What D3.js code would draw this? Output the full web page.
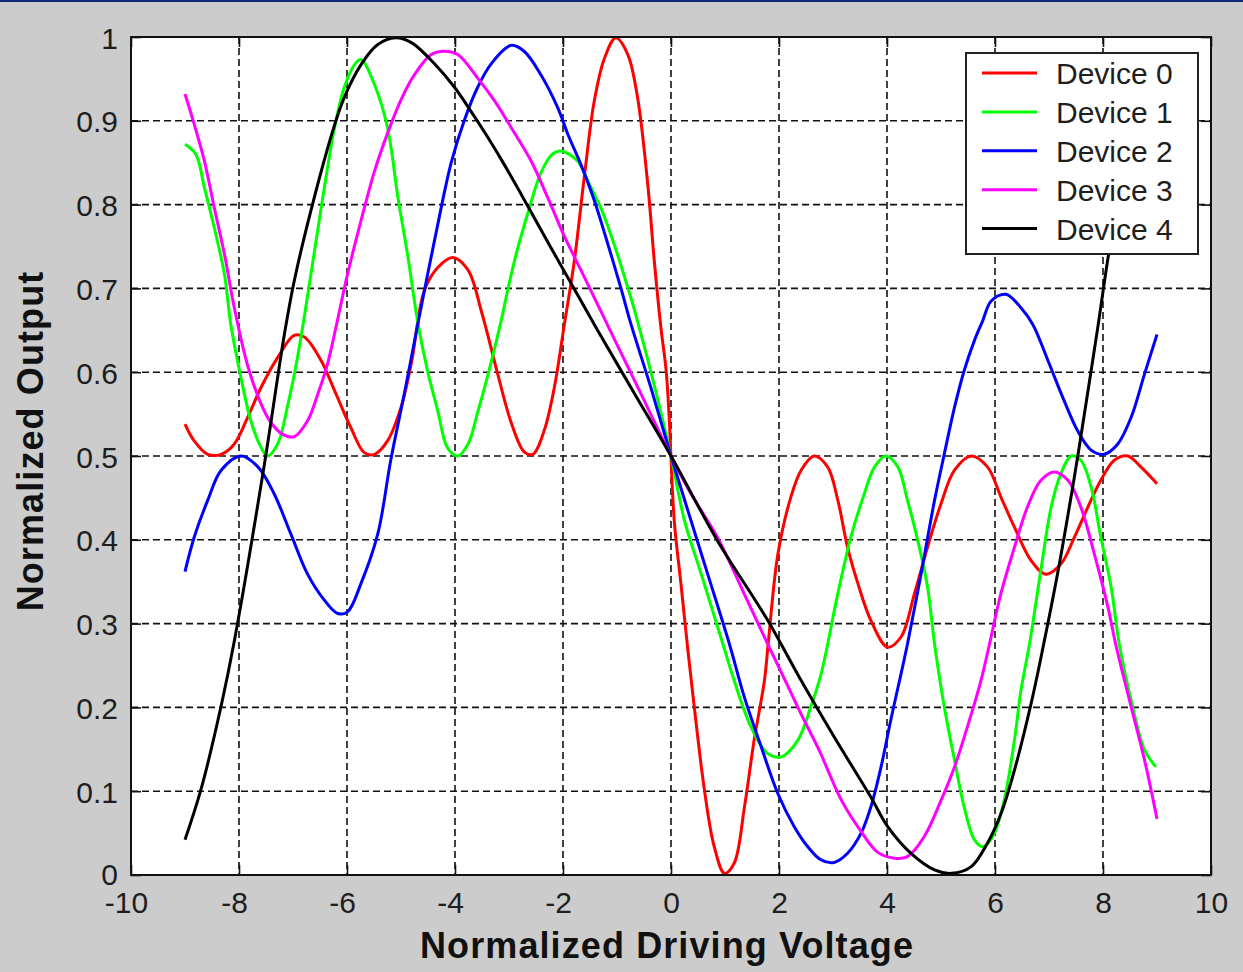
<!DOCTYPE html>
<html>
<head>
<meta charset="utf-8">
<script src="https://cdn.jsdelivr.net/npm/d3@7"></script>
<style>
  html, body { margin: 0; padding: 0; background: #cccccc; }
  svg { display: block; }
  text { font-family: "Liberation Sans", Arial, sans-serif; }
</style>
</head>
<body>
<svg id="chart" width="1243" height="972"></svg>
<script>
// ---------------- data ----------------
const seriesNames = ["Device 0", "Device 1", "Device 2", "Device 3", "Device 4"];
const seriesColors = ["#ff0000", "#00ff00", "#0000ff", "#ff00ff", "#000000"];

const xTickValues = [-10, -8, -6, -4, -2, 0, 2, 4, 6, 8, 10];
const xTickLabels = ["-10", "-8", "-6", "-4", "-2", "0", "2", "4", "6", "8", "10"];
const yTickValues = [0, 0.1, 0.2, 0.3, 0.4, 0.5, 0.6, 0.7, 0.8, 0.9, 1];
const yTickLabels = ["0", "0.1", "0.2", "0.3", "0.4", "0.5", "0.6", "0.7", "0.8", "0.9", "1"];

const xLabel = "Normalized Driving Voltage";
const yLabel = "Normalized Output";

const device0 = [
  [-9.0,0.538],[-8.83,0.518],[-8.58,0.502],[-8.33,0.502],[-8.09,0.514],[-7.84,0.546],
  [-7.59,0.582],[-7.28,0.618],[-6.98,0.644],[-6.79,0.642],[-6.48,0.614],[-6.23,0.578],
  [-5.93,0.534],[-5.68,0.504],[-5.49,0.502],[-5.25,0.518],[-5.0,0.558],[-4.81,0.61],
  [-4.57,0.697],[-4.32,0.725],[-4.04,0.737],[-3.76,0.722],[-3.50,0.670],[-3.21,0.598],
  [-2.96,0.540],[-2.72,0.505],[-2.56,0.502],[-2.35,0.530],[-2.16,0.582],
  [-1.98,0.655],[-1.79,0.733],[-1.60,0.836],[-1.42,0.924],[-1.23,0.975],[-1.02,0.999],
  [-0.80,0.979],[-0.62,0.928],[-0.43,0.824],[-0.31,0.733],[-0.19,0.655],[-0.09,0.602],
  [-0.03,0.542],[0,0.498],[0.06,0.423],[0.19,0.344],[0.30,0.276],[0.43,0.201],
  [0.62,0.101],[0.80,0.034],[0.99,0.002],[1.17,0.014],[1.36,0.081],[1.54,0.161],
  [1.73,0.232],[1.80,0.276],[1.98,0.383],[2.22,0.451],[2.41,0.483],[2.65,0.500],
  [2.90,0.487],[3.09,0.447],[3.27,0.391],[3.46,0.348],[3.70,0.304],[4.01,0.272],
  [4.26,0.284],[4.51,0.336],[4.75,0.391],[5.0,0.443],[5.25,0.483],[5.56,0.500],
  [5.86,0.487],[6.11,0.451],[6.36,0.415],[6.67,0.375],[6.94,0.359],[7.22,0.371],
  [7.47,0.403],[7.72,0.439],[7.96,0.471],[8.21,0.495],[8.46,0.500],[8.70,0.487],[9.0,0.467]
];

const device1 = [
  [-9.0,0.872],[-8.80,0.860],[-8.64,0.820],[-8.46,0.773],[-8.27,0.717],[-8.15,0.656],
  [-7.99,0.602],[-7.78,0.542],[-7.59,0.510],[-7.47,0.500],[-7.28,0.515],[-7.10,0.560],
  [-6.91,0.620],[-6.61,0.741],[-6.42,0.820],[-6.23,0.892],[-6.05,0.940],[-5.86,0.967],
  [-5.74,0.973],[-5.49,0.943],[-5.25,0.892],[-5.06,0.810],[-4.88,0.741],[-4.69,0.660],
  [-4.51,0.602],[-4.32,0.554],[-4.14,0.510],[-3.95,0.500],[-3.76,0.514],[-3.58,0.552],
  [-3.33,0.612],[-3.15,0.660],[-3.00,0.705],[-2.85,0.745],[-2.65,0.790],[-2.41,0.838],
  [-2.20,0.860],[-2.04,0.864],[-1.73,0.852],[-1.54,0.828],[-1.30,0.796],[-1.05,0.752],
  [-0.80,0.701],[-0.68,0.675],[-0.34,0.592],[0,0.500],[0.25,0.423],[0.56,0.359],
  [0.96,0.276],[1.17,0.232],[1.48,0.177],[1.79,0.145],[2.04,0.141],[2.35,0.161],
  [2.59,0.201],[2.78,0.240],[3.09,0.336],[3.33,0.403],[3.58,0.455],[3.77,0.487],
  [3.98,0.500],[4.20,0.487],[4.38,0.447],[4.57,0.399],[4.75,0.344],[4.88,0.276],
  [5.06,0.201],[5.25,0.137],[5.43,0.081],[5.62,0.042],[5.77,0.034],[5.96,0.046],
  [6.17,0.089],[6.36,0.161],[6.48,0.220],[6.64,0.276],[6.85,0.364],[7.04,0.439],
  [7.22,0.479],[7.41,0.500],[7.59,0.495],[7.78,0.463],[7.96,0.403],[8.15,0.344],
  [8.30,0.276],[8.52,0.209],[8.77,0.149],[8.98,0.129]
];

const device2 = [
  [-9.0,0.362],[-8.83,0.403],[-8.58,0.447],[-8.33,0.483],[-7.96,0.500],[-7.65,0.487],
  [-7.35,0.455],[-7.04,0.407],[-6.73,0.359],[-6.42,0.328],[-6.17,0.312],[-5.99,0.314],
  [-5.74,0.348],[-5.43,0.407],[-5.19,0.495],[-4.94,0.574],[-4.69,0.657],[-4.38,0.757],
  [-4.07,0.850],[-3.83,0.900],[-3.58,0.940],[-3.33,0.968],[-2.96,0.990],[-2.72,0.983],
  [-2.41,0.955],[-2.10,0.916],[-1.91,0.884],[-1.67,0.848],[-1.42,0.805],[-1.17,0.753],
  [-0.93,0.701],[-0.74,0.657],[-0.37,0.581],[0,0.500],[0.37,0.423],[0.68,0.359],
  [1.08,0.276],[1.36,0.212],[1.67,0.153],[1.98,0.097],[2.28,0.058],[2.53,0.034],
  [2.78,0.018],[3.02,0.015],[3.27,0.026],[3.52,0.050],[3.70,0.081],[3.89,0.129],
  [4.07,0.185],[4.26,0.240],[4.38,0.276],[4.63,0.359],[4.88,0.447],[5.06,0.502],
  [5.25,0.558],[5.43,0.602],[5.62,0.638],[5.77,0.661],[5.93,0.685],[6.20,0.693],
  [6.48,0.677],[6.70,0.657],[6.98,0.614],[7.28,0.566],[7.53,0.530],[7.78,0.507],
  [8.02,0.502],[8.27,0.514],[8.52,0.546],[8.77,0.598],[9.0,0.645]
];

const device3 = [
  [-9.0,0.932],[-8.83,0.896],[-8.64,0.852],[-8.46,0.797],[-8.27,0.741],[-8.09,0.678],
  [-7.84,0.608],[-7.59,0.562],[-7.41,0.540],[-7.22,0.527],[-6.98,0.523],[-6.73,0.542],
  [-6.54,0.574],[-6.36,0.610],[-6.20,0.655],[-5.99,0.717],[-5.74,0.781],[-5.49,0.840],
  [-5.25,0.885],[-5.00,0.925],[-4.75,0.955],[-4.44,0.979],[-4.20,0.983],[-3.95,0.979],
  [-3.58,0.951],[-3.27,0.924],[-2.96,0.892],[-2.59,0.852],[-2.28,0.808],[-1.98,0.763],
  [-1.67,0.722],[-1.36,0.681],[-1.15,0.653],[-0.60,0.580],[0,0.500],[0.37,0.455],
  [0.86,0.403],[1.36,0.335],[1.70,0.288],[2.16,0.226],[2.41,0.192],[2.75,0.148],
  [3.15,0.090],[3.52,0.052],[3.83,0.027],[4.14,0.020],[4.38,0.022],[4.69,0.046],
  [5.00,0.089],[5.25,0.129],[5.49,0.177],[5.74,0.232],[5.90,0.276],[6.11,0.336],
  [6.36,0.391],[6.60,0.439],[6.85,0.471],[7.10,0.481],[7.35,0.471],[7.59,0.439],
  [7.84,0.383],[8.09,0.320],[8.24,0.274],[8.52,0.201],[8.77,0.137],[9.0,0.067]
];

const device4 = [
  [-9.0,0.042],[-8.70,0.103],[-8.33,0.202],[-8.09,0.278],[-7.53,0.490],[-7.16,0.645],
  [-6.98,0.708],[-6.64,0.800],[-6.23,0.895],[-6.05,0.928],[-5.74,0.967],[-5.43,0.991],
  [-5.10,0.999],[-4.80,0.993],[-4.38,0.968],[-4.01,0.940],[-3.70,0.911],[-3.39,0.880],
  [-3.09,0.848],[-2.65,0.798],[-2.28,0.755],[-1.85,0.706],[-1.36,0.650],[-0.68,0.575],
  [0,0.500],[0.86,0.399],[1.79,0.304],[2.41,0.232],[3.02,0.165],[3.70,0.093],
  [4.01,0.058],[4.44,0.026],[4.88,0.006],[5.19,0.002],[5.56,0.010],[5.86,0.038],
  [6.11,0.073],[6.36,0.125],[6.67,0.205],[6.90,0.275],[7.16,0.360],[7.47,0.475],
  [7.65,0.548],[7.90,0.652],[8.09,0.735],[8.35,0.835],[8.65,0.920],[9.0,0.975]
];

const seriesData = [device0, device1, device2, device3, device4];

// ---------------- layout ----------------
const W = 1243, H = 972;
const plot = { left: 131, right: 1211, top: 37, bottom: 875 };

const svg = d3.select("#chart");

// background + top navy border
svg.append("rect").attr("x", 0).attr("y", 0).attr("width", W).attr("height", H).attr("fill", "#cccccc");
svg.append("rect").attr("x", 0).attr("y", 0).attr("width", W).attr("height", 2).attr("fill", "#0d2a7d");

const x = d3.scaleLinear().domain([-10, 10]).range([plot.left, plot.right]);
const y = d3.scaleLinear().domain([0, 1]).range([plot.bottom, plot.top]);

// plot area
svg.append("rect")
  .attr("x", plot.left).attr("y", plot.top)
  .attr("width", plot.right - plot.left).attr("height", plot.bottom - plot.top)
  .attr("fill", "#ffffff");

// grid
const grid = svg.append("g").attr("stroke", "#111").attr("stroke-width", 1.6)
  .attr("stroke-dasharray", "7,4").attr("fill", "none");
grid.selectAll("line.gx").data(xTickValues.slice(1, -1)).join("line")
  .attr("x1", d => x(d)).attr("x2", d => x(d))
  .attr("y1", plot.top).attr("y2", plot.bottom);
grid.selectAll("line.gy").data(yTickValues.slice(1, -1)).join("line")
  .attr("x1", plot.left).attr("x2", plot.right)
  .attr("y1", d => y(d)).attr("y2", d => y(d));

// curves
const line = d3.line().x(d => x(d[0])).y(d => y(d[1])).curve(d3.curveCatmullRom.alpha(0.5));
svg.append("clipPath").attr("id", "clip").append("rect")
  .attr("x", plot.left).attr("y", plot.top - 2)
  .attr("width", plot.right - plot.left).attr("height", plot.bottom - plot.top + 4);
svg.append("g").attr("clip-path", "url(#clip)")
  .selectAll("path").data(seriesData).join("path")
  .attr("d", d => line(d))
  .attr("fill", "none")
  .attr("stroke", (d, i) => seriesColors[i])
  .attr("stroke-width", 3)
  .attr("stroke-linejoin", "round");

// axes
const tickFont = g => g.selectAll("text")
  .attr("font-family", "'Liberation Sans', Arial, sans-serif")
  .attr("font-size", 30).attr("fill", "#1e1e1e");

const xAxis = d3.axisBottom(x).tickValues(xTickValues)
  .tickFormat((d, i) => xTickLabels[i]).tickSizeInner(-10).tickSizeOuter(0).tickPadding(17);
const gx = svg.append("g").attr("transform", `translate(0,${plot.bottom})`).call(xAxis);
gx.select(".domain").remove();
gx.call(tickFont);
gx.selectAll(".tick text").attr("dx", d => d < 0 ? -5 : 0);
gx.selectAll(".tick line").attr("stroke", "#111").attr("stroke-width", 1.6);

const yAxis = d3.axisLeft(y).tickValues(yTickValues)
  .tickFormat((d, i) => yTickLabels[i]).tickSizeInner(-10).tickSizeOuter(0).tickPadding(13);
const gy = svg.append("g").attr("transform", `translate(${plot.left},0)`).call(yAxis);
gy.select(".domain").remove();
gy.call(tickFont);
gy.selectAll(".tick text").attr("dy", d => d === 0 ? "0.3em" : "0.37em");
gy.selectAll(".tick line").attr("stroke", "#111").attr("stroke-width", 1.6);

const xAxisTop = d3.axisTop(x).tickValues(xTickValues).tickFormat("").tickSizeInner(-10).tickSizeOuter(0);
const gxt = svg.append("g").attr("transform", `translate(0,${plot.top})`).call(xAxisTop);
gxt.select(".domain").remove();
gxt.selectAll(".tick line").attr("stroke", "#111").attr("stroke-width", 1.6);

const yAxisRight = d3.axisRight(y).tickValues(yTickValues).tickFormat("").tickSizeInner(-10).tickSizeOuter(0);
const gyr = svg.append("g").attr("transform", `translate(${plot.right},0)`).call(yAxisRight);
gyr.select(".domain").remove();
gyr.selectAll(".tick line").attr("stroke", "#111").attr("stroke-width", 1.6);

// axes box
svg.append("rect")
  .attr("x", plot.left).attr("y", plot.top)
  .attr("width", plot.right - plot.left).attr("height", plot.bottom - plot.top)
  .attr("fill", "none").attr("stroke", "#111").attr("stroke-width", 2);

// axis titles
svg.append("text")
  .attr("x", 667).attr("y", 958)
  .attr("text-anchor", "middle")
  .attr("font-size", 36).attr("font-weight", "bold").attr("letter-spacing", 1.1)
  .attr("fill", "#111")
  .text(xLabel);

svg.append("text")
  .attr("transform", "translate(43,441) rotate(-90)")
  .attr("text-anchor", "middle")
  .attr("font-size", 36).attr("font-weight", "bold").attr("letter-spacing", 1.1)
  .attr("fill", "#111")
  .text(yLabel);

// legend
const legend = svg.append("g");
const lg = { x: 966, y: 53, w: 232, h: 201, rowStart: 73, rowStep: 38.9 };
legend.append("rect")
  .attr("x", lg.x).attr("y", lg.y).attr("width", lg.w).attr("height", lg.h)
  .attr("fill", "#ffffff").attr("stroke", "#222").attr("stroke-width", 2);
const rows = legend.selectAll("g.row").data(seriesNames).join("g")
  .attr("transform", (d, i) => `translate(0,${lg.rowStart + i * lg.rowStep})`);
rows.append("line")
  .attr("x1", 982).attr("x2", 1037).attr("y1", 0).attr("y2", 0)
  .attr("stroke", (d, i) => seriesColors[i]).attr("stroke-width", 3);
rows.append("text")
  .attr("x", 1056).attr("y", 11)
  .attr("font-size", 30).attr("fill", "#1e1e1e")
  .text(d => d);
</script>
</body>
</html>
